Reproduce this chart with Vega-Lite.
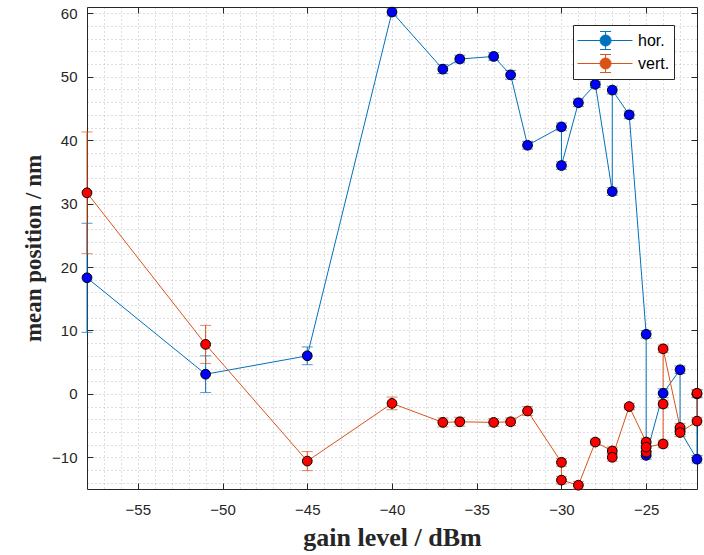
{
  "$schema": "https://vega.github.io/schema/vega-lite/v6.json",
  "width": 610,
  "height": 482,
  "autosize": {"type": "none"},
  "padding": {"left": 87, "top": 7, "right": 7, "bottom": 66},
  "background": "white",
  "config": {
    "view": {"stroke": null},
    "axis": {"domainColor": "#262626", "tickColor": "#262626", "labelColor": "#262626", "titleColor": "#262626", "labelFont": "Liberation Sans", "labelFontSize": 15, "gridDash": [1, 3], "gridColor": "#bdbdbd"},
    "legend": {"orient": "none", "legendX": 486, "legendY": 18, "title": null,
      "symbolType": "M-1,0H1.05M2.05,0H4M1.55,-0.82V-0.5M1.55,0.5V0.82M1.05,-0.82H2.05M1.05,0.82H2.05M1.05,0A0.5,0.5 0 1,0 2.05,0A0.5,0.5 0 1,0 1.05,0Z",
      "symbolSize": 484, "symbolStrokeWidth": 1, "symbolOpacity": 1,
      "labelFont": "Liberation Sans", "labelFontSize": 16, "labelColor": "black", "labelOffset": 38, "rowPadding": -1,
      "strokeColor": "#262626", "fillColor": "white", "padding": 4}
  },
  "data": {
    "values": [
      {"s": "hor.", "i": 1, "g": -58, "y": 18.3, "e": 8.6},
      {"s": "hor.", "i": 2, "g": -51, "y": 3.1, "e": 2.9},
      {"s": "hor.", "i": 3, "g": -45, "y": 6.0, "e": 1.4},
      {"s": "hor.", "i": 4, "g": -40, "y": 60.2, "e": 0.6},
      {"s": "hor.", "i": 5, "g": -37, "y": 51.2, "e": 0.7},
      {"s": "hor.", "i": 6, "g": -36, "y": 52.8, "e": 0.6},
      {"s": "hor.", "i": 7, "g": -34, "y": 53.2, "e": 0.6},
      {"s": "hor.", "i": 8, "g": -33, "y": 50.3, "e": 0.7},
      {"s": "hor.", "i": 9, "g": -32, "y": 39.2, "e": 0.6},
      {"s": "hor.", "i": 10, "g": -30, "y": 42.1, "e": 0.6},
      {"s": "hor.", "i": 11, "g": -30, "y": 36.0, "e": 0.6},
      {"s": "hor.", "i": 12, "g": -29, "y": 45.9, "e": 0.6},
      {"s": "hor.", "i": 13, "g": -28, "y": 48.8, "e": 0.5},
      {"s": "hor.", "i": 14, "g": -27, "y": 31.9, "e": 0.6},
      {"s": "hor.", "i": 15, "g": -27, "y": 47.9, "e": 0.6},
      {"s": "hor.", "i": 16, "g": -26, "y": 44.0, "e": 0.6},
      {"s": "hor.", "i": 17, "g": -25, "y": 9.4, "e": 0.6},
      {"s": "hor.", "i": 18, "g": -25, "y": -9.7, "e": 0.6},
      {"s": "hor.", "i": 19, "g": -24, "y": 0.1, "e": 0.7},
      {"s": "hor.", "i": 20, "g": -23, "y": 3.8, "e": 0.6},
      {"s": "hor.", "i": 21, "g": -23, "y": -5.8, "e": 0.6},
      {"s": "hor.", "i": 22, "g": -22, "y": -10.3, "e": 0.6},
      {"s": "hor.", "i": 23, "g": -22, "y": 0.0, "e": 0.6},
      {"s": "vert.", "i": 1, "g": -58, "y": 31.7, "e": 9.6},
      {"s": "vert.", "i": 2, "g": -51, "y": 7.8, "e": 3.0},
      {"s": "vert.", "i": 3, "g": -45, "y": -10.6, "e": 1.5},
      {"s": "vert.", "i": 4, "g": -40, "y": -1.5, "e": 1.0},
      {"s": "vert.", "i": 5, "g": -37, "y": -4.5, "e": 0.7},
      {"s": "vert.", "i": 6, "g": -36, "y": -4.4, "e": 0.7},
      {"s": "vert.", "i": 7, "g": -34, "y": -4.5, "e": 0.6},
      {"s": "vert.", "i": 8, "g": -33, "y": -4.4, "e": 0.6},
      {"s": "vert.", "i": 9, "g": -32, "y": -2.7, "e": 0.7},
      {"s": "vert.", "i": 10, "g": -30, "y": -10.8, "e": 0.6},
      {"s": "vert.", "i": 11, "g": -30, "y": -13.6, "e": 0.6},
      {"s": "vert.", "i": 12, "g": -29, "y": -14.4, "e": 0.6},
      {"s": "vert.", "i": 13, "g": -28, "y": -7.6, "e": 0.5},
      {"s": "vert.", "i": 14, "g": -27, "y": -9.0, "e": 0.6},
      {"s": "vert.", "i": 15, "g": -27, "y": -10.0, "e": 0.6},
      {"s": "vert.", "i": 16, "g": -26, "y": -2.0, "e": 0.5},
      {"s": "vert.", "i": 17, "g": -25, "y": -7.6, "e": 0.6},
      {"s": "vert.", "i": 18, "g": -25, "y": -9.2, "e": 0.6},
      {"s": "vert.", "i": 19, "g": -25, "y": -8.4, "e": 0.6},
      {"s": "vert.", "i": 20, "g": -24, "y": -7.9, "e": 0.6},
      {"s": "vert.", "i": 21, "g": -24, "y": -1.6, "e": 0.6},
      {"s": "vert.", "i": 22, "g": -24, "y": 7.1, "e": 0.6},
      {"s": "vert.", "i": 23, "g": -23, "y": -5.3, "e": 0.6},
      {"s": "vert.", "i": 24, "g": -23, "y": -6.1, "e": 0.6},
      {"s": "vert.", "i": 25, "g": -22, "y": -4.3, "e": 0.6},
      {"s": "vert.", "i": 26, "g": -22, "y": 0.1, "e": 0.6}
    ]
  },
  "layer": [
    {
      "mark": {"type": "point", "opacity": 0},
      "encoding": {
        "x": {"field": "g", "type": "quantitative", "scale": {"domain": [-58, -22], "nice": false, "zero": false},
          "axis": {"orient": "bottom", "values": [-58,-57,-56,-55,-54,-53,-52,-51,-50,-49,-48,-47,-46,-45,-44,-43,-42,-41,-40,-39,-38,-37,-36,-35,-34,-33,-32,-31,-30,-29,-28,-27,-26,-25,-24,-23,-22],
            "labelExpr": "datum.value % 5 === 0 ? datum.label : ''", "labelOverlap": false, "labelPadding": 13,
            "grid": true, "ticks": false, "domain": true,
            "title": "gain level / dBm", "titleFont": "Liberation Serif", "titleFontSize": 26, "titleFontWeight": "bold", "titlePadding": 7}},
        "y": {"field": "y", "type": "quantitative", "scale": {"domain": [-15, 61], "nice": false, "zero": false},
          "axis": {"orient": "left", "values": [-14,-12,-10,-8,-6,-4,-2,0,2,4,6,8,10,12,14,16,18,20,22,24,26,28,30,32,34,36,38,40,42,44,46,48,50,52,54,56,58,60],
            "labelExpr": "datum.value % 10 === 0 ? datum.label : ''", "labelOverlap": false, "labelPadding": 10,
            "grid": true, "ticks": false, "domain": true,
            "title": "mean position / nm", "titleFont": "Liberation Serif", "titleFontSize": 23, "titleFontWeight": "bold", "titlePadding": 6}}
      }
    },
    {
      "mark": {"type": "point", "opacity": 0},
      "encoding": {
        "x": {"field": "g", "type": "quantitative", "axis": {"orient": "top", "offset": -482, "values": [-55,-50,-45,-40,-35,-30,-25], "labels": false, "domain": false, "tickSize": 6, "grid": false, "title": null}},
        "y": {"field": "y", "type": "quantitative", "axis": {"orient": "right", "offset": -610, "values": [-10,0,10,20,30,40,50,60], "labels": false, "domain": false, "tickSize": 6, "grid": false, "title": null}}
      }
    },
    {
      "mark": {"type": "point", "opacity": 0},
      "encoding": {
        "x": {"field": "g", "type": "quantitative", "axis": {"orient": "bottom", "offset": -482, "values": [-55,-50,-45,-40,-35,-30,-25], "labels": false, "domain": true, "tickSize": 6, "grid": false, "title": null}},
        "y": {"field": "y", "type": "quantitative", "axis": {"orient": "left", "offset": -610, "values": [-10,0,10,20,30,40,50,60], "labels": false, "domain": true, "tickSize": 6, "grid": false, "title": null}}
      }
    },
    {
      "mark": {"type": "errorbar", "ticks": {"size": 11}, "thickness": 1},
      "encoding": {
        "x": {"field": "g", "type": "quantitative", "axis": null},
        "y": {"field": "y", "type": "quantitative", "axis": null},
        "yError": {"field": "e"},
        "color": {"field": "s", "type": "nominal", "scale": {"domain": ["hor.", "vert."], "range": ["#0072BD", "#D95319"]}}
      }
    },
    {
      "mark": {"type": "line", "strokeWidth": 1},
      "encoding": {
        "x": {"field": "g", "type": "quantitative", "axis": null},
        "y": {"field": "y", "type": "quantitative", "axis": null},
        "color": {"field": "s", "type": "nominal"},
        "order": {"field": "i", "type": "quantitative"}
      }
    },
    {
      "mark": {"type": "point", "shape": "circle", "filled": true, "size": 95, "stroke": "black", "strokeWidth": 1, "opacity": 1},
      "encoding": {
        "x": {"field": "g", "type": "quantitative", "axis": null},
        "y": {"field": "y", "type": "quantitative", "axis": null},
        "fill": {"field": "s", "type": "nominal", "scale": {"domain": ["hor.", "vert."], "range": ["#0000FF", "#FF0000"]}}
      }
    }
  ],
  "resolve": {"axis": {"x": "independent", "y": "independent"}}
}
